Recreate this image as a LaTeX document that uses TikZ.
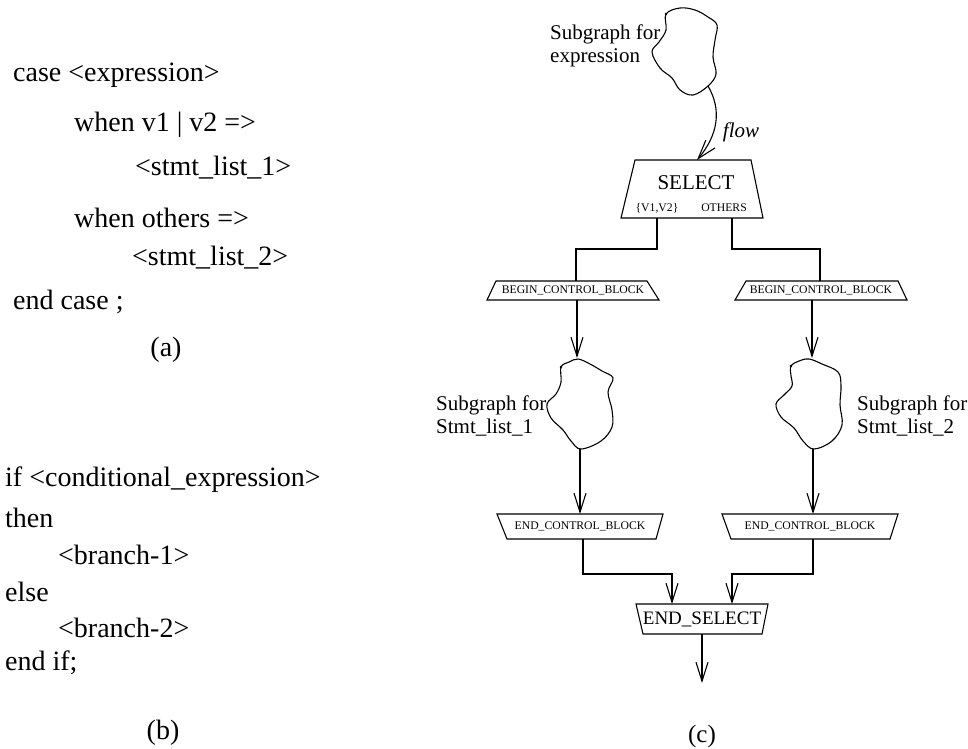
\documentclass[tikz,border=0pt]{standalone}
\usepackage{fontspec}
\setmainfont{Liberation Serif}
\usetikzlibrary{arrows.meta,calc}
\begin{document}
\begin{tikzpicture}[x=1pt,y=-1pt,
  line/.style={line width=1.1pt, line join=miter},
  arr/.style={line, -{Straight Barb[length=19pt,width=12pt,line width=1.1pt]}},
  code/.style={anchor=west, inner sep=0pt, font=\fontsize{28}{32}\selectfont},
  caption/.style={inner sep=0pt, font=\fontsize{28}{32}\selectfont},
  note/.style={anchor=west, align=left, inner sep=0pt, font=\fontsize{21}{23.5}\selectfont},
  box/.style={shape=rectangle, inner sep=0pt, outer sep=0pt},
  tiny/.style={font=\fontsize{11.7}{13}\selectfont},
  blobarea/.style={shape=rectangle, inner sep=0pt, outer sep=0pt},
  blobline/.style={line width=1.1pt, smooth cycle, tension=0.6}
]
\useasboundingbox (0,0) rectangle (968,748);

% ---------- (a) case statement ----------
\node[code] (a1) at (13,75)  {case <expression>};
\node[code] (a2) at (74,125) {when v1 | v2 =>};
\node[code] (a3) at (135,168) {<stmt\_list\_1>};
\node[code] (a4) at (74,218) {when others =>};
\node[code] (a5) at (132,258) {<stmt\_list\_2>};
\node[code] (a6) at (13,302) {end case ;};
\node[caption] (capa) at (166,350) {(a)};

% ---------- (b) if statement ----------
\node[code] (b1) at (5,480) {if <conditional\_expression>};
\node[code] (b2) at (5,518) {then};
\node[code] (b3) at (58,555) {<branch-1>};
\node[code] (b4) at (5,592) {else};
\node[code] (b5) at (58,628) {<branch-2>};
\node[code] (b6) at (5,663) {end if;};
\node[caption] (capb) at (163,733) {(b)};

% ---------- (c) graph ----------
% subgraph for the expression
\node[blobarea, minimum width=66pt, minimum height=88pt] (eb) at (684,51) {};
\draw[blobline] plot coordinates {(666,14) (680,8) (695,10) (708,17) (717,25)
  (715,40) (713,57) (716,74) (708,86) (693,95) (680,90) (672,78) (660,68)
  (652,52) (659,42) (666,30)};
\fill (666,14) circle (1.4);
\node[note] (ebl) at (550,46) {Subgraph for\\expression};

% SELECT node
\node[box, minimum width=142pt, minimum height=58pt] (sel) at (692,189) {};
\draw[line] ($(sel.north west)+(14,0)$) -- ($(sel.north east)+(-12,0)$)
  -- (sel.south east) -- (sel.south west) -- cycle;
\node[inner sep=0pt, font=\fontsize{21}{24}\selectfont] (selt) at (696,183) {SELECT};
\node[inner sep=0pt, tiny] (v12) at (657,208) {\{V1,V2\}};
\node[inner sep=0pt, tiny] (oth) at (724,208) {OTHERS};

\draw[arr] ($(eb.south)+(24,-9)$) .. controls ($(eb.south)+(38,15)$) and ($(eb.south)+(34,40)$) .. ($(sel.north)+(5,0)$);
\node[inner sep=0pt, font=\itshape\fontsize{21}{24}\selectfont] (flow) at (741,132) {flow};

% control block entries
\node[box, tiny, minimum width=172pt, minimum height=19pt] (bl) at (573,290.5) {BEGIN\_CONTROL\_BLOCK};
\draw[line] ($(bl.north west)+(9,0)$) -- ($(bl.north east)+(-12,0)$)
  -- (bl.south east) -- (bl.south west) -- cycle;
\node[box, tiny, minimum width=172pt, minimum height=19pt] (br) at (821,290.5) {BEGIN\_CONTROL\_BLOCK};
\draw[line] ($(br.north west)+(11,0)$) -- ($(br.north east)+(-9,0)$)
  -- (br.south east) -- (br.south west) -- cycle;

\draw[line] ($(sel.south)+(-35,0)$) -- ++(0,31) -| ($(bl.north)+(3,0)$);
\draw[line] ($(sel.south)+(40,0)$) -- ++(0,31) -| ($(br.north)+(-1,0)$);

% subgraph for Stmt_list_1
\node[blobarea, minimum width=66pt, minimum height=90pt] (s1) at (580,404) {};
\draw[blobline] plot coordinates {(561,367) (569,362) (578,359) (590,364) (602,371)
  (613,378) (608,392) (612,410) (612,427) (601,441) (581,449) (571,441) (563,430)
  (551,418) (547,404) (556,394) (561,382)};
\fill (561,367) circle (1.4);
\node[note] (s1l) at (436,416) {Subgraph for\\Stmt\_list\_1};

% subgraph for Stmt_list_2
\node[blobarea, minimum width=66pt, minimum height=90pt] (s2) at (810,404) {};
\draw[blobline] plot coordinates {(791,366) (799,361) (809,359) (822,364) (838,372)
  (841,386) (840,405) (842,425) (832,441) (814,449) (803,441) (794,428) (781,417)
  (776,404) (784,395) (792,386) (791,376)};
\fill (791,366) circle (1.4);
\node[note] (s2l) at (857,416) {Subgraph for\\Stmt\_list\_2};

\draw[arr] ($(bl.south)+(4,0)$) -- ($(s1.north)+(-3,-1)$);
\draw[arr] ($(br.south)+(-9,0)$) -- ($(s2.north)+(2,-1)$);

% control block exits
\node[box, tiny, minimum width=166pt, minimum height=25pt] (el) at (580,526.5) {END\_CONTROL\_BLOCK};
\draw[line] (el.north west) -- (el.north east) -- ($(el.south east)+(-7,0)$)
  -- ($(el.south west)+(10,0)$) -- cycle;
\node[box, tiny, minimum width=176pt, minimum height=25pt] (er) at (810,526.5) {END\_CONTROL\_BLOCK};
\draw[line] (er.north west) -- (er.north east) -- ($(er.south east)+(-8,0)$)
  -- ($(er.south west)+(9,0)$) -- cycle;

\draw[arr] ($(s1.south)+(0,0)$) -- (el.north);
\draw[arr] ($(s2.south)+(3,0)$) -- ($(er.north)+(3,0)$);

% END_SELECT node
\node[box, font=\fontsize{19}{22}\selectfont, minimum width=132pt, minimum height=30pt] (es) at (702,619) {END\_SELECT};
\draw[line] (es.north west) -- (es.north east) -- ($(es.south east)+(-6,0)$)
  -- ($(es.south west)+(7,0)$) -- cycle;

\draw[arr] ($(el.south)+(3,0)$) |- ($(es.north)+(-30,-30)$) -- ($(es.north)+(-30,0)$);
\draw[arr] ($(er.south)+(3,0)$) |- ($(es.north)+(30,-30)$) -- ($(es.north)+(30,0)$);

\coordinate (out) at ($(es.south)+(0,49)$);
\draw[arr] (es.south) -- (out);

\node[caption, font=\fontsize{25}{28}\selectfont] (capc) at (702,736) {(c)};
\end{tikzpicture}
\end{document}
